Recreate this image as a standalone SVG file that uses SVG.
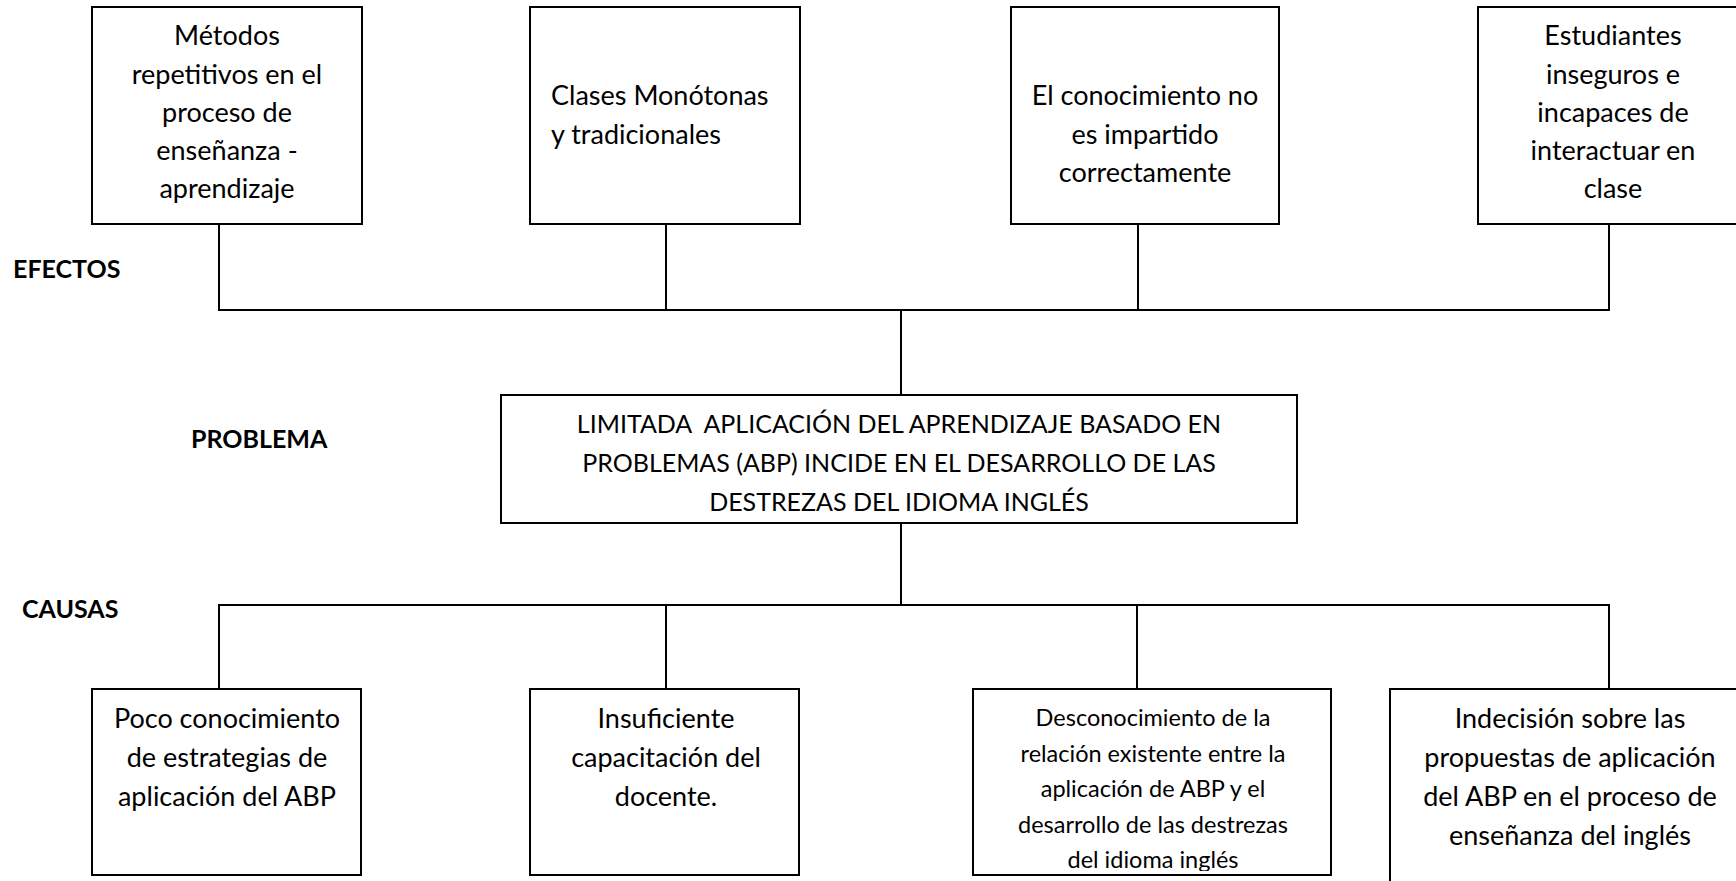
<svg xmlns="http://www.w3.org/2000/svg" width="1736" height="881" viewBox="0 0 1736 881">
<style>
.box{fill:#fff;stroke:#000;stroke-width:2}
.c{fill:none;stroke:#000;stroke-width:2}
.t{font-family:Lato,"Open Sans",sans-serif;font-size:27px;fill:#000}
.m{text-anchor:middle}
.s{font-size:23.5px}
.p{font-size:25px}
.lbl{font-family:Lato,"Open Sans",sans-serif;font-weight:bold;font-size:25px;fill:#000}
</style>
<defs>
<clipPath id="clipc3"><rect x="973" y="689" width="358" height="182"/></clipPath>
</defs>
<g id="connectors">
<path class="c" d="M219,224 V310 M666,224 V310 M1138,224 V310 M1609,224 V310 M218,310 H1610 M901,310 V395"/>
<path class="c" d="M901,523 V605 M218,605 H1610 M219,605 V689 M666,605 V689 M1137,605 V689 M1609,605 V689"/>
</g>
<g id="label-efectos"><text class="lbl" x="13" y="278">EFECTOS</text></g>
<g id="label-problema"><text class="lbl" x="191" y="448">PROBLEMA</text></g>
<g id="label-causas"><text class="lbl" x="22" y="618">CAUSAS</text></g>
<g id="e1">
<rect class="box" x="92" y="7" width="270" height="217"/>
<text class="t m" x="227" y="45">Métodos</text>
<text class="t m" x="227" y="83.5">repetitivos en el</text>
<text class="t m" x="227" y="122">proceso de</text>
<text class="t m" x="227" y="160">enseñanza -</text>
<text class="t m" x="227" y="198">aprendizaje</text>
</g>
<g id="e2">
<rect class="box" x="530" y="7" width="270" height="217"/>
<text class="t" x="551" y="105">Clases Monótonas</text>
<text class="t" x="551" y="143.5">y tradicionales</text>
</g>
<g id="e3">
<rect class="box" x="1011" y="7" width="268" height="217"/>
<text class="t m" x="1145" y="105">El conocimiento no</text>
<text class="t m" x="1145" y="143.5">es impartido</text>
<text class="t m" x="1145" y="182">correctamente</text>
</g>
<g id="e4">
<rect class="box" x="1478" y="7" width="300" height="217"/>
<text class="t m" x="1613" y="45">Estudiantes</text>
<text class="t m" x="1613" y="83.5">inseguros e</text>
<text class="t m" x="1613" y="122">incapaces de</text>
<text class="t m" x="1613" y="160">interactuar en</text>
<text class="t m" x="1613" y="198">clase</text>
</g>
<g id="problema">
<rect class="box" x="501" y="395" width="796" height="128"/>
<text class="t p m" x="899" y="433" xml:space="preserve">LIMITADA  APLICACIÓN DEL APRENDIZAJE BASADO EN</text>
<text class="t p m" x="899" y="472">PROBLEMAS (ABP) INCIDE EN EL DESARROLLO DE LAS</text>
<text class="t p m" x="899" y="511">DESTREZAS DEL IDIOMA INGLÉS</text>
</g>
<g id="c1">
<rect class="box" x="92" y="689" width="269" height="186"/>
<text class="t m" x="227" y="728">Poco conocimiento</text>
<text class="t m" x="227" y="767">de estrategias de</text>
<text class="t m" x="227" y="806">aplicación del ABP</text>
</g>
<g id="c2">
<rect class="box" x="530" y="689" width="269" height="186"/>
<text class="t m" x="666" y="728">Insuficiente</text>
<text class="t m" x="666" y="767">capacitación del</text>
<text class="t m" x="666" y="806">docente.</text>
</g>
<g id="c3">
<rect class="box" x="973" y="689" width="358" height="186"/>
<g clip-path="url(#clipc3)">
<text class="t s m" x="1153" y="726">Desconocimiento de la</text>
<text class="t s m" x="1153" y="762">relación existente entre la</text>
<text class="t s m" x="1153" y="797">aplicación de ABP y el</text>
<text class="t s m" x="1153" y="833">desarrollo de las destrezas</text>
<text class="t s m" x="1153" y="868">del idioma inglés</text>
</g>
</g>
<g id="c4">
<rect class="box" x="1390" y="689" width="400" height="250"/>
<text class="t m" x="1570" y="728">Indecisión sobre las</text>
<text class="t m" x="1570" y="767">propuestas de aplicación</text>
<text class="t m" x="1570" y="806">del ABP en el proceso de</text>
<text class="t m" x="1570" y="845">enseñanza del inglés</text>
</g>
</svg>
